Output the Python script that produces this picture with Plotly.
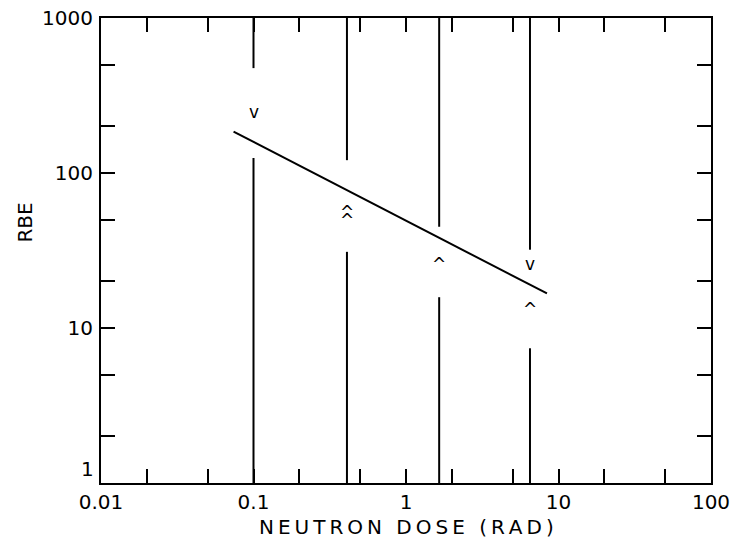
import math
import plotly.graph_objects as go

# neutron dose (rad) of each measurement
dose = [0.1, 0.41, 1.65, 6.5]
# vertical bars: upper part runs from the top of the plot down to bar_upper_end,
# lower part runs from bar_lower_start down to the bottom
bar_upper_end = [475, 121, 45, 32]
bar_lower_start = [125, 31, 15.8, 7.4]

# limit markers (v = upper limit, ^ = lower limit)
limit_x = [0.1, 0.41, 0.41, 1.65, 6.5, 6.5]
limit_y = [244, 61, 54, 28.3, 25.5, 14.5]
limit_sym = ["v", "^", "^", "^", "v", "^"]

# fitted line end points
fit_x = [0.074, 8.4]
fit_y = [185, 16.7]

x_ticks = [0.01, 0.02, 0.05, 0.1, 0.2, 0.5, 1, 2, 5, 10, 20, 50, 100]
x_labels = ["0.01", "", "", "0.1", "", "", "1", "", "", "10", "", "", "100"]
y_ticks = [1, 2, 5, 10, 20, 50, 100, 200, 500, 1000]
y_labels = ["", "", "", "10", "", "", "100", "", "", "1000"]

y_top, y_bottom = 1000, 1

FONT = "DejaVu Sans"
THIN = "\u2009"

fig = go.Figure()

# vertical bars with gaps, drawn as one broken line
bx, by = [], []
for d, hi, lo in zip(dose, bar_upper_end, bar_lower_start):
    bx += [d, d, None, d, d, None]
    by += [y_top, hi, None, lo, y_bottom, None]
fig.add_trace(go.Scatter(x=bx, y=by, mode="lines",
                         line=dict(color="black", width=2),
                         hoverinfo="skip", showlegend=False))

# fitted line
fig.add_trace(go.Scatter(x=fit_x, y=fit_y, mode="lines",
                         line=dict(color="black", width=2),
                         showlegend=False))

tick_common = dict(
    ticks="inside", ticklen=14, tickwidth=2, tickcolor="black",
    showline=True, linecolor="black", linewidth=2, mirror="allticks",
    showgrid=False, zeroline=False, automargin=False,
    tickfont=dict(family=FONT, size=20, color="black"),
)

fig.update_xaxes(type="log", range=[-2, 2], tickvals=x_ticks,
                 ticktext=x_labels, ticklabelstandoff=0, **tick_common)
fig.update_yaxes(type="log", range=[0, 3], tickvals=y_ticks,
                 ticktext=y_labels, ticklabelstandoff=2, **tick_common)

annotations = [
    # the "1" of the y axis sits a bit above the corner
    dict(text="1", xref="paper", yref="y", x=0, y=0.09,
         xanchor="right", yanchor="middle", xshift=-5, showarrow=False,
         font=dict(family=FONT, size=20, color="black")),
    dict(text=THIN.join("NEUTRON DOSE (RAD)"), xref="paper", yref="paper",
         x=0.5, y=0, yshift=-44, xanchor="center", yanchor="middle",
         showarrow=False, font=dict(family=FONT, size=20, color="black")),
    dict(text="RBE", xref="paper", yref="paper", textangle=-90,
         x=0, xshift=-76, y=0.56, xanchor="center", yanchor="middle",
         showarrow=False, font=dict(family=FONT, size=20, color="black")),
]
# limit markers; log axes take log10 positions for annotations,
# glyph shifted so its visible part sits on the value
for x, y, s in zip(limit_x, limit_y, limit_sym):
    annotations.append(dict(
        text=s, xref="x", yref="y", x=math.log10(x), y=math.log10(y),
        xanchor="center", yanchor="middle", yshift=(1 if s == "v" else -6),
        showarrow=False, font=dict(family=FONT, size=17, color="black")))

fig.update_layout(
    width=735, height=544,
    margin=dict(l=101, r=24, t=18, b=61),
    paper_bgcolor="white", plot_bgcolor="white",
    showlegend=False,
    annotations=annotations,
)

# drop the default page margin so the figure fills the window
fig.write_html("out.html", config={"displayModeBar": False},
               post_script="document.body.style.margin='0';")
